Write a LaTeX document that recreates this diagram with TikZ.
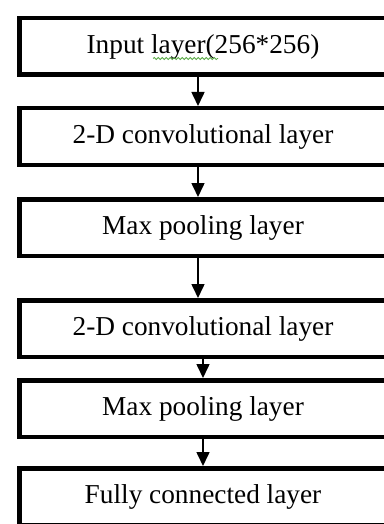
\documentclass[tikz,border=0pt]{standalone}
\usepackage{fontspec}
\setmainfont{Liberation Serif}
\usetikzlibrary{positioning,arrows.meta,decorations.pathmorphing}
\definecolor{spellgreen}{RGB}{90,170,70}

\begin{document}
\begin{tikzpicture}[->,>={Triangle[length=14pt,width=13pt]},line width=1.6pt,x=1pt,y=1pt]
\tikzstyle{layerbox}=[rectangle,draw=black,fill=white,line width=4.5pt,minimum width=367.5pt,minimum height=56.5pt,font=\fontsize{27.3}{32}\selectfont]
\useasboundingbox (0,0) rectangle (383,-524);
\node[layerbox] (in) at (203,-46.5) {Input layer(256*256)};
\node[layerbox] (conv1) [below=29pt of in] {2-D convolutional layer};
\node[layerbox] (pool1) [below=30pt of conv1] {Max pooling layer};
\node[layerbox] (conv2) [below=40pt of pool1] {2-D convolutional layer};
\node[layerbox] (pool2) [below=19pt of conv2] {Max pooling layer};
\node[layerbox] (fc) [below=27pt of pool2] {Fully connected layer};
\path
([xshift=-5pt]in.south) edge ([xshift=-5pt]conv1.north)
([xshift=-5pt]conv1.south) edge ([xshift=-5pt]pool1.north)
([xshift=-5pt]pool1.south) edge ([xshift=-5pt]conv2.north)
(conv2.south) edge (pool2.north)
(pool2.south) edge (fc.north);
% wavy underline below "layer"
\draw[-,spellgreen,line width=0.8pt,decorate,decoration={snake,amplitude=1pt,segment length=4pt}]
([shift={(-50,-12)}]in.center) -- ([shift={(15,-12)}]in.center);
\end{tikzpicture}
\end{document}
